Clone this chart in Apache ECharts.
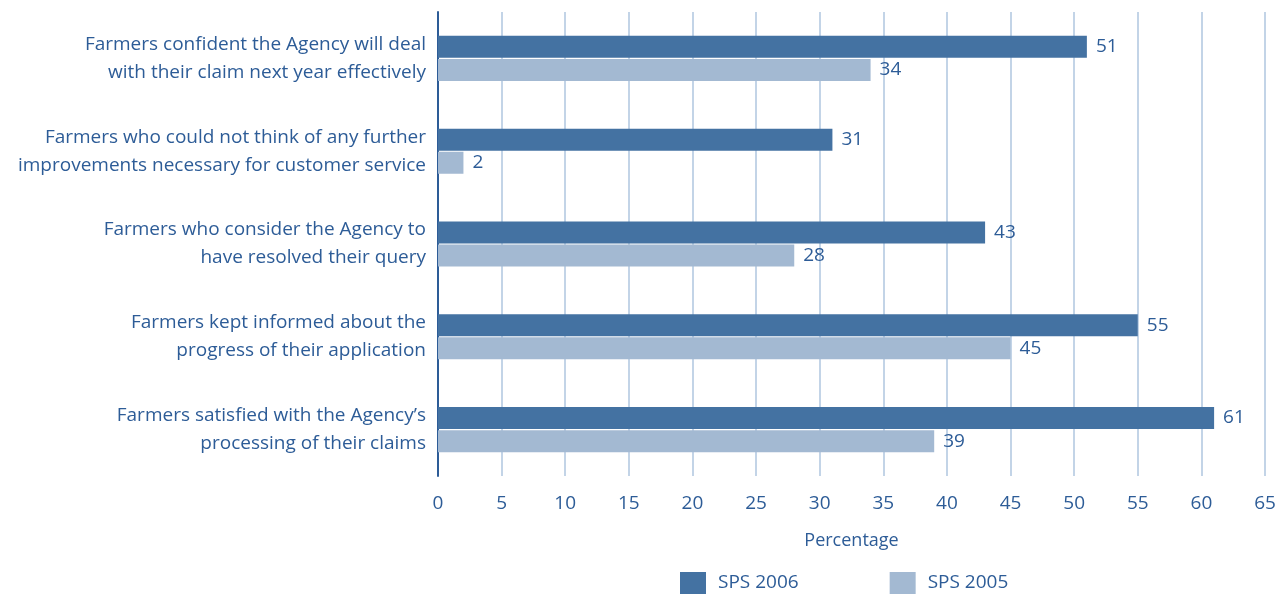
<!DOCTYPE html>
<html>
<head>
<meta charset="utf-8">
<script src="https://cdn.jsdelivr.net/npm/echarts@6/dist/echarts.min.js"></script>
<style>
  html, body { margin: 0; padding: 0; background: #ffffff; }
  #chart { width: 1280px; height: 595px; }
</style>
</head>
<body>
<div id="chart"></div>
<script>
// Survey statements, top to bottom
const categories = [
  "Farmers confident the Agency will deal\nwith their claim next year effectively",
  "Farmers who could not think of any further\nimprovements necessary for customer service",
  "Farmers who consider the Agency to\nhave resolved their query",
  "Farmers kept informed about the\nprogress of their application",
  "Farmers satisfied with the Agency\u2019s\nprocessing of their claims"
];
const seriesNames = ["SPS 2006", "SPS 2005"];
const sps2006 = [51, 31, 43, 55, 61];
const sps2005 = [34, 2, 28, 45, 39];

const textColor = "#2d5c97";
const darkBlue = "#4472a2";
const lightBlue = "#a3b9d2";
const fontFamily = "'Open Sans', 'Noto Sans', sans-serif";

const chart = echarts.init(document.getElementById("chart"));

const valueLabel = {
  show: true,
  position: "right",
  distance: 9,
  color: textColor,
  fontSize: 19,
  fontFamily: fontFamily
};

chart.setOption({
  animation: false,
  textStyle: { fontFamily: fontFamily },
  grid: { left: 438, right: 15, top: 12, bottom: 119, containLabel: false },
  legend: {
    data: seriesNames,
    bottom: 1,
    left: 680,
    padding: 0,
    itemWidth: 26,
    itemHeight: 22,
    itemGap: 91,
    icon: "rect",
    textStyle: { color: textColor, fontSize: 19, fontFamily: fontFamily, padding: [0, 0, 0, 7] }
  },
  xAxis: {
    type: "value",
    min: 0,
    max: 65,
    interval: 5,
    name: "Percentage",
    nameLocation: "middle",
    nameGap: 56,
    nameTextStyle: { color: textColor, fontSize: 18, fontFamily: fontFamily },
    axisLine: { show: false },
    axisTick: { show: false },
    axisLabel: { color: textColor, fontSize: 19, margin: 18, fontFamily: fontFamily },
    splitLine: { show: true, lineStyle: { color: "#c3d4e7", width: 2 } }
  },
  yAxis: {
    type: "category",
    data: categories,
    inverse: true,
    axisLine: { show: true, lineStyle: { color: "#2d5c97", width: 2 } },
    axisTick: { show: false },
    axisLabel: {
      color: textColor,
      fontSize: 19,
      lineHeight: 28,
      margin: 12,
      align: "right",
      fontFamily: fontFamily
    }
  },
  series: [
    {
      name: seriesNames[0],
      type: "bar",
      data: sps2006,
      barWidth: 22,
      barGap: "5%",
      itemStyle: { color: darkBlue },
      label: valueLabel
    },
    {
      name: seriesNames[1],
      type: "bar",
      data: sps2005,
      barWidth: 22,
      itemStyle: { color: lightBlue },
      label: valueLabel
    }
  ]
});
</script>
</body>
</html>
